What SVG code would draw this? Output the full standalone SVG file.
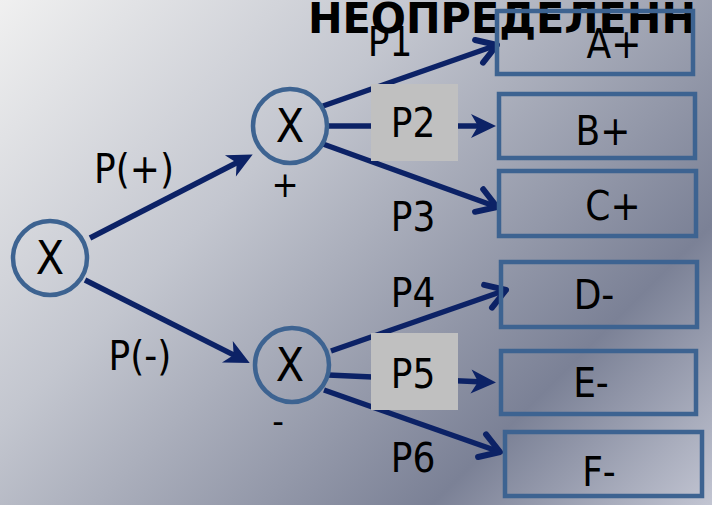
<svg xmlns="http://www.w3.org/2000/svg" width="712" height="505" viewBox="0 0 712 505">
<style>
.t{font-family:"Liberation Sans Narrow","DejaVu Sans Condensed","Liberation Sans",sans-serif;fill:#000;}
.node{fill:none;stroke:#3d6391;stroke-width:4.5;}
.edge{fill:none;stroke:#0c2266;stroke-width:5.5;}
.lbl{fill:#c0c0c0;}
</style>
<defs>
<linearGradient id="bg" gradientUnits="userSpaceOnUse" x1="0" y1="0" x2="608" y2="608">
<stop offset="0" stop-color="#f0f0f0"/>
<stop offset="0.35" stop-color="#c3c6cf"/>
<stop offset="0.77" stop-color="#7b8196"/>
<stop offset="1" stop-color="#c2c5d2"/>
</linearGradient>
<marker id="st" markerUnits="userSpaceOnUse" markerWidth="40" markerHeight="40" refX="0" refY="0" orient="auto" overflow="visible">
<path d="M12,0 L-13,-12 L-6,0 L-13,12 Z" fill="#0c2266"/>
</marker>
<marker id="ch" markerUnits="userSpaceOnUse" markerWidth="40" markerHeight="40" refX="0" refY="0" orient="auto" overflow="visible">
<path d="M-19,-12 L0,0 L-19,12" fill="none" stroke="#0c2266" stroke-width="6" stroke-linecap="round" stroke-linejoin="round"/>
</marker>
</defs>
<rect width="712" height="505" fill="url(#bg)"/>
<text class="t" x="308" y="33" font-size="42" font-weight="bold" textLength="388" lengthAdjust="spacingAndGlyphs">НЕОПРЕДЕЛЕНН</text>
<g id="connectors">
<line class="edge" x1="90" y1="238" x2="242" y2="160" marker-end="url(#st)"/>
<line class="edge" x1="85" y1="280" x2="239" y2="357.6" marker-end="url(#st)"/>
<line class="edge" x1="323" y1="106" x2="497" y2="45" marker-end="url(#ch)"/>
<line class="edge" x1="327" y1="126" x2="484" y2="126" marker-end="url(#st)"/>
<line class="edge" x1="323" y1="144" x2="497" y2="207" marker-end="url(#ch)"/>
<line class="edge" x1="331" y1="351" x2="506" y2="290" marker-end="url(#ch)"/>
<line class="edge" x1="328" y1="375" x2="484" y2="382" marker-end="url(#st)"/>
<line class="edge" x1="324" y1="390" x2="500" y2="452" marker-end="url(#ch)"/>
<rect class="lbl" x="371" y="84" width="87" height="77"/>
<rect class="lbl" x="371" y="333" width="87" height="77"/>
<text class="t" x="134" y="183" font-size="40" text-anchor="middle">P(+)</text>
<text class="t" x="140" y="370" font-size="40" text-anchor="middle">P(-)</text>
<text class="t" x="390" y="56" font-size="40" text-anchor="middle">P1</text>
<text class="t" x="413" y="137" font-size="40" text-anchor="middle">P2</text>
<text class="t" x="413" y="231" font-size="40" text-anchor="middle">P3</text>
<text class="t" x="413" y="307" font-size="40" text-anchor="middle">P4</text>
<text class="t" x="413" y="388" font-size="40" text-anchor="middle">P5</text>
<text class="t" x="413" y="472" font-size="40" text-anchor="middle">P6</text>
</g>
<g id="root">
<circle class="node" cx="50" cy="258" r="37"/>
<text class="t" x="50" y="274" font-size="46" text-anchor="middle">X</text>
</g>
<g id="plus">
<circle class="node" cx="290" cy="126" r="37"/>
<text class="t" x="290" y="142" font-size="46" text-anchor="middle">X</text>
<text class="t" x="285" y="197" font-size="36" text-anchor="middle">+</text>
</g>
<g id="minus">
<circle class="node" cx="292" cy="365" r="37"/>
<text class="t" x="290" y="381" font-size="46" text-anchor="middle">X</text>
<text class="t" x="278" y="433" font-size="36" text-anchor="middle">-</text>
</g>
<g id="A"><rect class="node" x="497" y="11" width="196" height="63"/><text class="t" x="614" y="58" font-size="40" text-anchor="middle">A+</text></g>
<g id="B"><rect class="node" x="499" y="94" width="196" height="64"/><text class="t" x="603" y="145" font-size="40" text-anchor="middle">B+</text></g>
<g id="C"><rect class="node" x="499" y="171" width="197" height="65"/><text class="t" x="613" y="220" font-size="40" text-anchor="middle">C+</text></g>
<g id="D"><rect class="node" x="501" y="262" width="196" height="65"/><text class="t" x="594" y="309" font-size="40" text-anchor="middle">D-</text></g>
<g id="E"><rect class="node" x="501" y="351" width="195" height="63"/><text class="t" x="591" y="397" font-size="40" text-anchor="middle">E-</text></g>
<g id="F"><rect class="node" x="505" y="432" width="197" height="64"/><text class="t" x="599" y="486" font-size="40" text-anchor="middle">F-</text></g>
</svg>
